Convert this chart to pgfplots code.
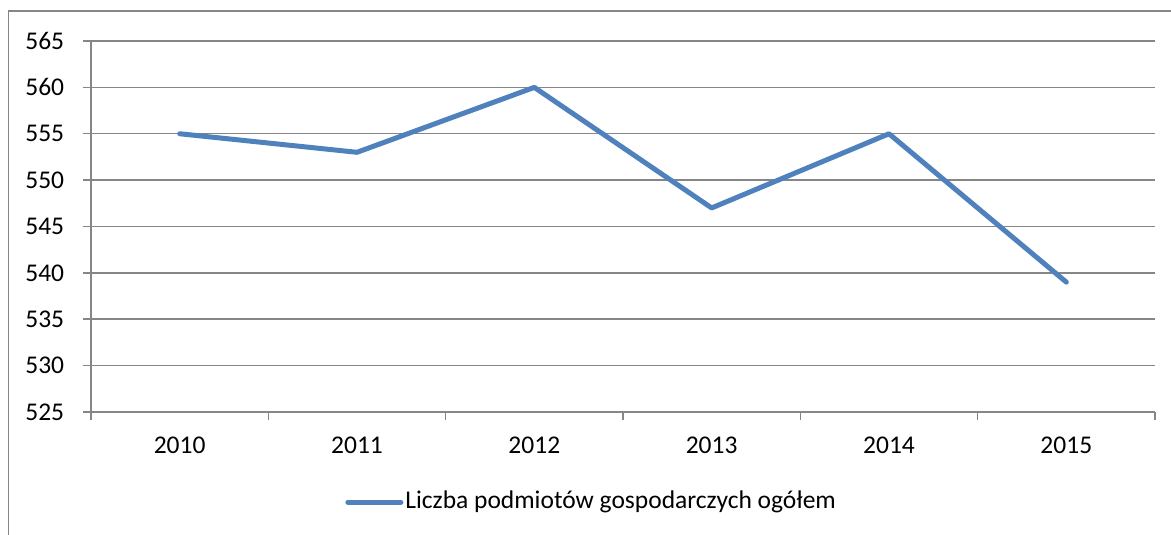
\documentclass[border=0pt]{standalone}
\usepackage{pgfplots}
\pgfplotsset{compat=1.18}
\usepackage{fontspec}
\setmainfont{Carlito}
\definecolor{exblue}{HTML}{4F81BD}
\definecolor{exgray}{HTML}{868686}
\begin{document}
\fontsize{12.8}{15}\selectfont
\begin{tikzpicture}
\useasboundingbox (-45.5bp,-61.5bp) rectangle (540bp,206bp);
\draw[exgray,line width=0.75bp] (-41.25bp,-70bp) -- (-41.25bp,200.5bp) -- (560bp,200.5bp);
\begin{axis}[
  at={(0,0)}, anchor=south west,
  scale only axis,
  width=532bp, height=185.5bp,
  xmin=0.5, xmax=6.5,
  ymin=525, ymax=565,
  xtick={1,2,3,4,5,6},
  xticklabels={2010,2011,2012,2013,2014,2015},
  minor xtick={0.5,1.5,2.5,3.5,4.5,5.5,6.5},
  major x tick style={draw=none},
  ytick={525,530,535,540,545,550,555,560,565},
  axis lines=left,
  axis line style={-, exgray, line width=0.75bp},
  tick style={exgray, line width=0.75bp},
  tick align=outside,
  major tick length=4bp,
  minor tick length=4bp,
  ymajorgrids,
  grid style={exgray, line width=0.75bp},
  tick label style={font=\fontsize{12.8}{15}\selectfont, text=black},
  /pgf/number format/assume math mode=true,
  /pgf/number format/1000 sep={},
  yticklabel style={xshift=-5bp},
  xticklabel style={yshift=-4bp},
  legend style={
    at={(0.2387,-0.2426)}, anchor=west,
    draw=none, fill=none, inner sep=0pt,
    font=\fontsize{12.8}{15}\selectfont,
    nodes={inner xsep=1bp},
  },
  legend image code/.code={\draw[#1] (0bp,0bp) -- (26.5bp,0bp);},
  clip=false,
]
\addplot[exblue, line width=2.5bp, line cap=round, line join=round] coordinates {
  (1,555) (2,553) (3,560) (4,547) (5,555) (6,539)
};
\addlegendentry{Liczba podmiotów gospodarczych ogółem}
\end{axis}
\end{tikzpicture}
\end{document}
